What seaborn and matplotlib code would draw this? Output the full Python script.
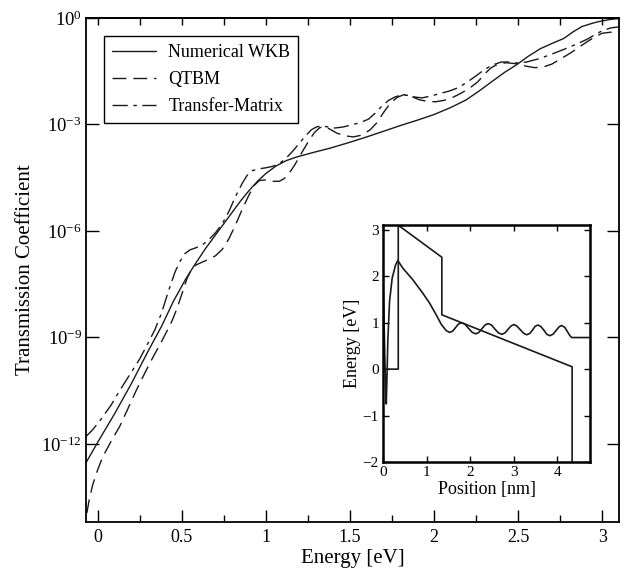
import numpy as np
import matplotlib
matplotlib.use("Agg")
import matplotlib.pyplot as plt
from matplotlib.ticker import FixedLocator, NullLocator
import seaborn as sns

# transmission curves: energy [eV] and log10(T)
E_wkb = [-0.07, 0.0, 0.1, 0.2, 0.3, 0.38, 0.45, 0.52, 0.57, 0.64, 0.71, 0.78, 0.85, 0.90,
         0.95, 1.00, 1.06, 1.12, 1.18, 1.28, 1.38, 1.50, 1.60, 1.70, 1.80, 1.90, 2.00,
         2.10, 2.19, 2.27, 2.35, 2.42, 2.49, 2.56, 2.63, 2.70, 2.77, 2.83, 2.88, 2.94,
         2.99, 3.05, 3.10]
logT_wkb = [-12.53, -11.95, -11.15, -10.3, -9.38, -8.68, -7.98, -7.38, -7.0, -6.5, -6.05,
            -5.6, -5.15, -4.86, -4.6, -4.38, -4.17, -4.02, -3.92, -3.79, -3.67, -3.5,
            -3.35, -3.19, -3.03, -2.88, -2.72, -2.52, -2.31, -2.05, -1.77, -1.53, -1.32,
            -1.08, -0.87, -0.72, -0.58, -0.38, -0.24, -0.15, -0.09, -0.04, -0.01]

E_qtbm = [-0.065, -0.05, -0.03, 0.0, 0.03, 0.08, 0.13, 0.18, 0.23, 0.28, 0.33, 0.37, 0.405,
          0.44, 0.47, 0.50, 0.53, 0.555, 0.58, 0.62, 0.66, 0.70, 0.74, 0.78, 0.82, 0.86,
          0.90, 0.93, 0.96, 1.00, 1.04, 1.08, 1.11, 1.14, 1.17, 1.20, 1.23, 1.26, 1.29,
          1.32, 1.35, 1.38, 1.42, 1.47, 1.52, 1.57, 1.62, 1.66, 1.70, 1.74, 1.78, 1.82,
          1.86, 1.91, 1.96, 2.01, 2.06, 2.11, 2.16, 2.21, 2.26, 2.30, 2.34, 2.38, 2.43,
          2.49, 2.55, 2.60, 2.65, 2.70, 2.75, 2.81, 2.86, 2.91, 2.96, 3.00, 3.05, 3.10]
logT_qtbm = [-13.95, -13.55, -13.15, -12.72, -12.36, -11.92, -11.51, -11.0, -10.48, -10.0,
             -9.54, -9.2, -8.88, -8.55, -8.2, -7.78, -7.35, -7.1, -6.97, -6.88, -6.8,
             -6.7, -6.52, -6.22, -5.82, -5.38, -4.98, -4.72, -4.58, -4.56, -4.6, -4.6,
             -4.52, -4.36, -4.15, -3.9, -3.66, -3.42, -3.22, -3.09, -3.06, -3.13, -3.24,
             -3.32, -3.35, -3.3, -3.15, -2.95, -2.66, -2.4, -2.24, -2.16, -2.2, -2.3,
             -2.35, -2.36, -2.32, -2.24, -2.12, -1.98, -1.8, -1.58, -1.4, -1.3, -1.26,
             -1.29, -1.36, -1.4, -1.38, -1.3, -1.16, -0.99, -0.83, -0.67, -0.52, -0.43,
             -0.40, -0.46]

E_tm = [-0.07, -0.03, 0.02, 0.08, 0.13, 0.19, 0.25, 0.30, 0.34, 0.38, 0.42, 0.46, 0.49,
        0.52, 0.55, 0.58, 0.62, 0.66, 0.70, 0.74, 0.78, 0.82, 0.86, 0.89, 0.92, 0.96,
        1.00, 1.04, 1.08, 1.12, 1.16, 1.20, 1.24, 1.27, 1.30, 1.33, 1.37, 1.41, 1.46,
        1.51, 1.56, 1.61, 1.65, 1.69, 1.73, 1.77, 1.81, 1.85, 1.89, 1.93, 1.98, 2.04,
        2.09, 2.14, 2.19, 2.25, 2.30, 2.35, 2.40, 2.44, 2.48, 2.55, 2.63, 2.71, 2.79,
        2.85, 2.91, 2.96, 3.00, 3.05, 3.10]
logT_tm = [-11.79, -11.6, -11.3, -10.9, -10.5, -10.05, -9.6, -9.15, -8.78, -8.3, -7.7,
           -7.15, -6.85, -6.63, -6.53, -6.48, -6.4, -6.25, -6.05, -5.8, -5.45, -5.02,
           -4.65, -4.42, -4.3, -4.25, -4.22, -4.18, -4.1, -3.95, -3.75, -3.52, -3.3,
           -3.15, -3.07, -3.04, -3.07, -3.1, -3.07, -3.01, -2.95, -2.85, -2.68, -2.48,
           -2.32, -2.22, -2.17, -2.18, -2.23, -2.25, -2.2, -2.12, -2.06, -1.97, -1.83,
           -1.63, -1.45, -1.32, -1.24, -1.24, -1.27, -1.24, -1.14, -1.0, -0.85, -0.73,
           -0.6, -0.46, -0.36, -0.28, -0.25]

# inset: conduction band profile and wave curve
pos_band = [0.0, 0.35, 0.35, 1.35, 1.35, 4.34, 4.34]
en_band = [0.0, 0.0, 3.1, 2.41, 1.17, 0.05, -2.0]

pos_wave = [0.0, 0.02, 0.04, 0.06, 0.075, 0.09, 0.11, 0.15, 0.21, 0.29, 0.34, 0.45, 0.68,
            0.91, 1.07, 1.22, 1.34, 1.45, 1.53, 1.60, 1.67, 1.73, 1.80, 1.88, 1.96, 2.05,
            2.13, 2.20, 2.27, 2.34, 2.41, 2.49, 2.57, 2.65, 2.73, 2.80, 2.87, 2.94, 3.00,
            3.07, 3.15, 3.23, 3.30, 3.37, 3.43, 3.49, 3.55, 3.62, 3.69, 3.76, 3.83, 3.90,
            3.97, 4.04, 4.10, 4.17, 4.23, 4.29, 4.33, 4.75]
en_wave = [1.95, 1.2, 0.3, -0.4, -0.75, -0.2, 0.6, 1.46, 1.96, 2.25, 2.34, 2.18, 1.93,
           1.64, 1.42, 1.17, 0.96, 0.83, 0.79, 0.82, 0.90, 0.97, 1.00, 0.97, 0.88, 0.79,
           0.76, 0.79, 0.87, 0.95, 0.98, 0.95, 0.86, 0.78, 0.75, 0.78, 0.86, 0.93, 0.96,
           0.93, 0.85, 0.77, 0.74, 0.77, 0.84, 0.92, 0.95, 0.92, 0.84, 0.75, 0.72, 0.75,
           0.83, 0.91, 0.94, 0.90, 0.81, 0.72, 0.68, 0.68]

x_ticks = [0, 0.5, 1, 1.5, 2, 2.5, 3]
x_ticklabels = ["0", "0.5", "1", "1.5", "2", "2.5", "3"]
y_ticks = [1e-12, 1e-9, 1e-6, 1e-3, 1e0]

sns.set_theme(style="ticks")
plt.rcParams["font.family"] = ["Liberation Serif", "DejaVu Serif"]
plt.rcParams["mathtext.fontset"] = "stix"
plt.rcParams["axes.edgecolor"] = "black"
plt.rcParams["xtick.color"] = "black"
plt.rcParams["ytick.color"] = "black"
plt.rcParams["text.color"] = "black"
plt.rcParams["axes.labelcolor"] = "black"

fig = plt.figure(figsize=(6.31, 5.76), dpi=100)
ax = fig.add_axes([0.1363, 0.09375, 0.8447, 0.875])
ax.set_yscale("log")

dash = (0, (10, 5))
dashdot = (0, (11, 4, 2.5, 4))
sns.lineplot(x=E_wkb, y=10.0 ** np.array(logT_wkb), ax=ax, color="k", lw=1.0,
             linestyle="-", label="Numerical WKB", estimator=None, sort=False)
sns.lineplot(x=E_qtbm, y=10.0 ** np.array(logT_qtbm), ax=ax, color="k", lw=1.0,
             linestyle=dash, label="QTBM", estimator=None, sort=False)
sns.lineplot(x=E_tm, y=10.0 ** np.array(logT_tm), ax=ax, color="k", lw=1.0,
             linestyle=dashdot, label="Transfer-Matrix", estimator=None, sort=False)

ax.set_xlim(-0.07, 3.1)
ax.set_ylim(10 ** -14.2, 1.0)
ax.set_xticks(x_ticks)
ax.set_xticklabels(x_ticklabels)
ax.xaxis.set_minor_locator(FixedLocator([0.25, 0.75, 1.25, 1.75, 2.25, 2.75]))
ax.yaxis.set_major_locator(FixedLocator(y_ticks))
ax.yaxis.set_minor_locator(NullLocator())
ax.tick_params(which="major", direction="in", length=9, width=1.0, labelsize=13,
               right=True, top=False, pad=5)
ax.tick_params(axis="y", pad=3, labelsize=13.5)
ax.tick_params(which="minor", direction="in", length=5, width=1.0, top=False)
for s in ax.spines.values():
    s.set_linewidth(1.3)

sec = ax.secondary_xaxis("top")
sec.set_xticks([0, 0.25, 0.5, 0.75, 1, 1.25, 1.5, 1.75, 2, 2.25, 2.5, 2.75, 3])
sec.tick_params(direction="in", length=5, width=1.0, labeltop=False)
sec.xaxis.set_minor_locator(NullLocator())

ax.set_xlabel("Energy [eV]", fontsize=15, labelpad=2)
ax.set_ylabel("Transmission Coefficient", fontsize=15)
ax.yaxis.set_label_coords(-0.095, 0.5)

leg = ax.legend(loc="upper left", bbox_to_anchor=(0.034, 0.964), borderaxespad=0,
                fontsize=13, frameon=True, fancybox=False, handlelength=2.4,
                handletextpad=0.7, labelspacing=0.55, borderpad=0.45)
leg.get_frame().set_edgecolor("black")
leg.get_frame().set_linewidth(1.0)
leg.get_frame().set_alpha(1)

# inset with band diagram
inax = fig.add_axes([0.607, 0.198, 0.328, 0.411])
inax.set_facecolor("white")
sns.lineplot(x=pos_band, y=en_band, ax=inax, color="k", lw=1.2, estimator=None, sort=False)
sns.lineplot(x=pos_wave, y=en_wave, ax=inax, color="k", lw=1.2, estimator=None, sort=False)
inax.set_xlim(0, 4.75)
inax.set_ylim(-2, 3.1)
inax.set_xticks([0, 1, 2, 3, 4])
inax.set_yticks([-2, -1, 0, 1, 2, 3])
inax.tick_params(direction="in", length=4, width=1.0, labelsize=11, top=True, right=True,
                 pad=3)
for s in inax.spines.values():
    s.set_linewidth(1.8)
inax.set_xlabel("Position [nm]", fontsize=13, labelpad=1)
inax.set_ylabel("Energy [eV]", fontsize=13, labelpad=1)

fig.savefig("out.png", dpi=100)
